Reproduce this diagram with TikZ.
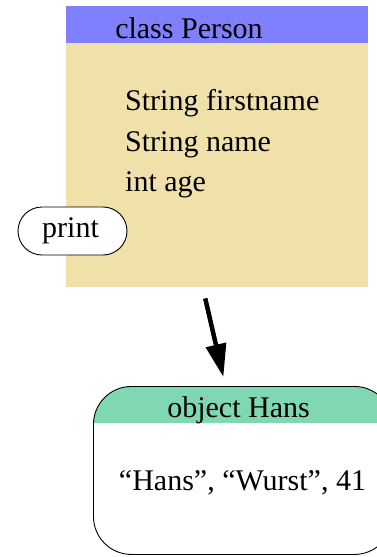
\documentclass[tikz,border=0pt]{standalone}
\usepackage{fontspec}
\setmainfont{Liberation Serif}
\usepackage{xcolor}
\usetikzlibrary{arrows.meta}

\definecolor{classhead}{HTML}{8080FF}
\definecolor{classbody}{HTML}{F0E1AA}
\definecolor{objhead}{HTML}{80D8B2}

\begin{document}
\begin{tikzpicture}[x=1pt,y=-1pt,
  every node/.style={font=\fontsize{30}{36}\selectfont, inner sep=0pt},
  txt/.style={anchor=base west},
  pointer/.style={-{Triangle[length=33pt,width=20pt]}, line width=4.5pt}]
\useasboundingbox (0,0) rectangle (377,557);
\clip (0,0) rectangle (377,557);

% class Person
\node[fill=classbody, minimum width=302pt, minimum height=281pt, anchor=north west] (person) at (66,6) {};
\node[fill=classhead, minimum width=302pt, minimum height=37pt, anchor=north west] (head) at (66,6) {};
\node[anchor=base] (title) at (189,38) {class Person};

% attributes
\node[txt] (first) at (125,110) {String firstname};
\node[txt] (name) at (125,151) {String name};
\node[txt] (age) at (125,191) {int age};

% method
\node[draw, fill=white, rounded corners=24pt, minimum width=109pt, minimum height=48pt, line width=0.9pt] (print) at (72.5,231) {};
\node[anchor=base] (printtxt) at (70.5,237) {print};

% object Hans
\node[draw, rounded corners=38pt, minimum width=299pt, minimum height=168pt, line width=0.9pt, anchor=north west,
  path picture={\fill[objhead, sharp corners] ([xshift=-5pt,yshift=5pt]path picture bounding box.north west) rectangle ([xshift=5pt,yshift=-37pt]path picture bounding box.north east);}]
  (hans) at (93,386) {};
\node[anchor=base] (objtitle) at (238.5,417) {object Hans};
\node[anchor=base] (values) at (242.5,490) {“Hans”, “Wurst”, 41};

% instance arrow
\draw[pointer, shorten <=11.3pt, shorten >=9.2pt] ([xshift=-14.5pt]person.south) -- ([xshift=-17.5pt]hans.north);
\end{tikzpicture}
\end{document}
